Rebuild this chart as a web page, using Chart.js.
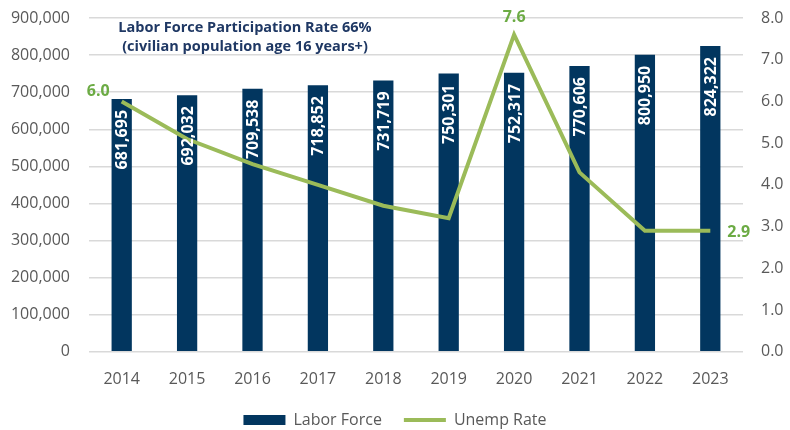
<!DOCTYPE html>
<html>
<head>
<meta charset="utf-8">
<script src="https://cdn.jsdelivr.net/npm/chart.js@4"></script>
<style>
  html, body { margin: 0; padding: 0; background: #fff; }
  #wrap { width: 790px; height: 430px; }
</style>
</head>
<body>
<div id="wrap"><canvas id="chart"></canvas></div>
<script>
const years = ["2014", "2015", "2016", "2017", "2018", "2019", "2020", "2021", "2022", "2023"];
const laborForce = [681695, 692032, 709538, 718852, 731719, 750301, 752317, 770606, 800950, 824322];
const unempRate = [6.0, 5.1, 4.5, 4.0, 3.5, 3.2, 7.6, 4.3, 2.9, 2.9];
const rateLabelYears = ["2014", "2020", "2023"];
const titleLines = ["Labor Force Participation Rate 66%", "(civilian population age 16 years+)"];

const NAVY = "#02365f";
const GREEN = "#9bbb59";
const GREEN_TEXT = "#6cab44";
const GREY = "#595959";
const FONT = "'Open Sans', sans-serif";

function barLabelPlugin() {
  return {
    id: "bar-labels",
    afterDatasetsDraw(chart) {
      const { ctx } = chart;
      ctx.save();
      ctx.font = `bold 16px ${FONT}`;
      ctx.fillStyle = "#ffffff";
      ctx.textAlign = "right";
      ctx.textBaseline = "middle";
      chart.getDatasetMeta(0).data.forEach((bar, i) => {
        ctx.save();
        ctx.translate(bar.x + 1, bar.y + 11);
        ctx.rotate(-Math.PI / 2);
        ctx.fillText(laborForce[i].toLocaleString("en-US"), 0, 0);
        ctx.restore();
      });

      ctx.fillStyle = GREEN_TEXT;
      chart.getDatasetMeta(1).data.forEach((pt, i) => {
        if (!rateLabelYears.includes(years[i])) return;
        const text = unempRate[i].toFixed(1);
        if (i === 0) {
          ctx.textAlign = "right";
          ctx.fillText(text, pt.x - 12, pt.y - 10);
        } else if (i === years.length - 1) {
          ctx.textAlign = "left";
          ctx.fillText(text, pt.x + 17, pt.y + 2);
        } else {
          ctx.textAlign = "center";
          ctx.fillText(text, pt.x, pt.y - 17);
        }
      });
      ctx.restore();
    },
  };
}

function titlePlugin() {
  return {
    id: "inner-title",
    afterDraw(chart) {
      const { ctx } = chart;
      ctx.save();
      ctx.font = `bold 14.5px ${FONT}`;
      ctx.fillStyle = "#1f3864";
      ctx.textAlign = "center";
      ctx.textBaseline = "middle";
      ctx.fillText(titleLines[0], 245, 28);
      ctx.fillText(titleLines[1], 245, 47);
      ctx.restore();
    },
  };
}

// pull the legend a bit closer to the axis labels than its own padding allows
function legendNudgePlugin() {
  return {
    id: "legend-nudge",
    afterLayout(chart) {
      if (!chart.legend) return;
      chart.legend.top -= 9;
      chart.legend.bottom -= 9;
    },
  };
}

// fixed axis widths; drop the extra vertical padding the tick padding adds
function fitSide(width) {
  return (scale) => {
    scale.width = width;
    scale.paddingTop = 0;
    scale.paddingBottom = 0;
  };
}

new Chart(document.getElementById("chart"), {
  data: {
    labels: years,
    datasets: [
      {
        type: "bar",
        label: "Labor Force",
        data: laborForce,
        backgroundColor: NAVY,
        borderWidth: 0,
        barPercentage: 0.31,
        categoryPercentage: 1,
        yAxisID: "y",
        order: 2,
      },
      {
        type: "line",
        label: "Unemp Rate",
        data: unempRate,
        borderColor: GREEN,
        backgroundColor: GREEN,
        borderWidth: 4,
        pointRadius: 0,
        tension: 0,
        yAxisID: "y1",
        order: 1,
      },
    ],
  },
  options: {
    responsive: true,
    maintainAspectRatio: false,
    animation: false,
    layout: { padding: { top: 18, left: 0, right: 0, bottom: -17 } },
    plugins: {
      legend: {
        position: "bottom",
        labels: {
          usePointStyle: true,
          pointStyleWidth: 42,
          boxHeight: 10,
          padding: 22,
          color: GREY,
          font: { family: FONT, size: 16 },
          sort: (a, b) => a.datasetIndex - b.datasetIndex,
          generateLabels(chart) {
            return chart.data.datasets.map((ds, i) => ({
              text: ds.label,
              fillStyle: ds.type === "bar" ? NAVY : GREEN,
              strokeStyle: ds.type === "bar" ? NAVY : GREEN,
              lineWidth: ds.type === "bar" ? 0 : 4,
              pointStyle: ds.type === "bar" ? "rect" : "line",
              fontColor: GREY,
              hidden: false,
              datasetIndex: i,
            }));
          },
        },
      },
      tooltip: { enabled: false },
    },
    scales: {
      x: {
        grid: { display: false },
        border: { display: false },
        ticks: { color: GREY, font: { family: FONT, size: 16 }, padding: 10 },
      },
      y: {
        position: "left",
        min: 0,
        max: 900000,
        border: { display: false },
        grid: { color: "#d9d9d9", lineWidth: 1.5, drawTicks: false },
        ticks: {
          stepSize: 100000,
          padding: 19,
          color: GREY,
          font: { family: FONT, size: 16 },
          callback: (v) => v.toLocaleString("en-US"),
        },
        afterFit: fitSide(89),
      },
      y1: {
        position: "right",
        min: 0,
        max: 8,
        border: { display: false },
        grid: { drawOnChartArea: false, drawTicks: false },
        ticks: {
          stepSize: 1,
          padding: 18,
          color: GREY,
          font: { family: FONT, size: 16 },
          callback: (v) => v.toFixed(1),
        },
        afterFit: fitSide(47),
      },
    },
  },
  plugins: [barLabelPlugin(), titlePlugin(), legendNudgePlugin()],
});
</script>
</body>
</html>
